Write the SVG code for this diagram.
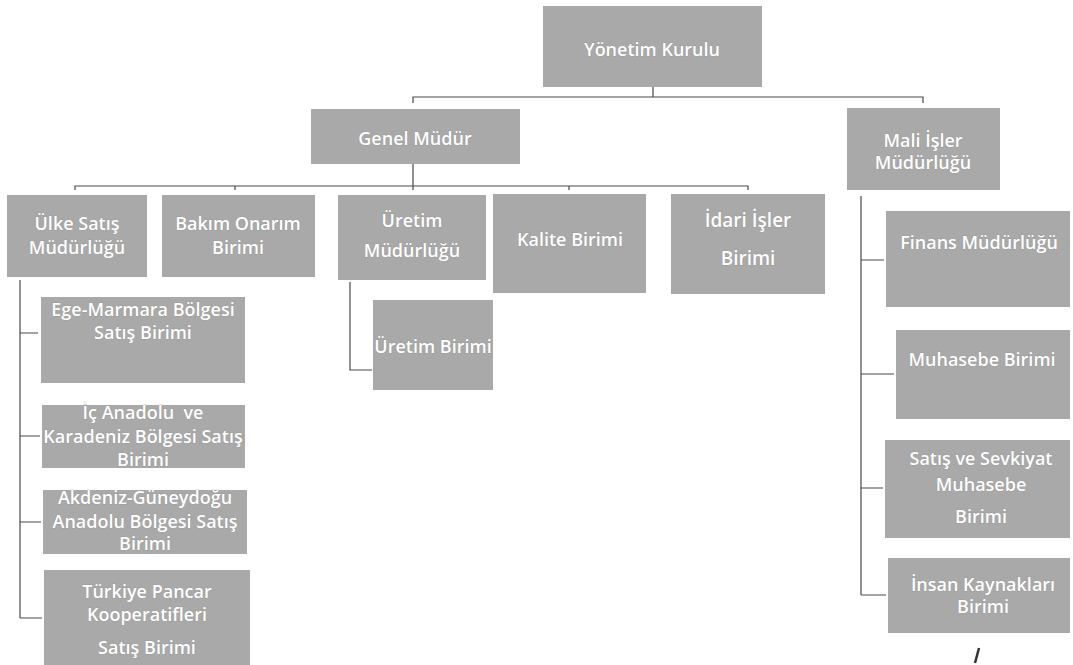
<svg xmlns="http://www.w3.org/2000/svg" width="1073" height="665" viewBox="0 0 1073 665">
<defs>
<style>
.box{fill:#a9a9a9;}
.t{font-family:"Open Sans","Liberation Sans",sans-serif;font-size:18px;font-weight:600;fill:#ffffff;stroke:#8c8c8c;stroke-width:0.5px;paint-order:stroke;text-anchor:middle;}
.big{font-size:19px;}
.c{fill:none;stroke:#4a4a4a;stroke-width:1.2;}
</style>
</defs>
<rect width="1073" height="665" fill="#ffffff"/>
<g id="connectors">
<path class="c" d="M653,87 V97 M413,103 V97 H923 V103"/>
<path class="c" d="M413,164 V190 M75,190 V186 H748 V190 M235,186 V190 M569,186 V190"/>
<path class="c" d="M20,280 V618 M20,333 H38 M20,436 H40 M20,522 H41 M20,618 H42"/>
<path class="c" d="M350,282 V370 H372"/>
<path class="c" d="M861,196 V595 M861,260 H884 M861,374 H894 M861,488 H883 M861,595 H886"/>
</g>
<g id="n-yonetim"><rect class="box" x="543" y="6" width="219" height="81"/><text class="t" x="652" y="56">Yönetim Kurulu</text></g>
<g id="n-genel"><rect class="box" x="311" y="109" width="209" height="55"/><text class="t" x="415" y="145">Genel Müdür</text></g>
<g id="n-mali"><rect class="box" x="847" y="108" width="153" height="82"/><text class="t" x="923" y="147">Mali İşler</text><text class="t" x="923" y="169">Müdürlüğü</text></g>
<g id="n-ulke"><rect class="box" x="7" y="195" width="140" height="82"/><text class="t" x="77" y="230">Ülke Satış</text><text class="t" x="77" y="254">Müdürlüğü</text></g>
<g id="n-bakim"><rect class="box" x="162" y="195" width="153" height="82"/><text class="t" x="238" y="230">Bakım Onarım</text><text class="t" x="238" y="254">Birimi</text></g>
<g id="n-uretim-m"><rect class="box" x="338" y="195" width="148" height="85"/><text class="t" x="412" y="227">Üretim</text><text class="t" x="412" y="257">Müdürlüğü</text></g>
<g id="n-kalite"><rect class="box" x="493" y="194" width="153" height="99"/><text class="t" x="570" y="246">Kalite Birimi</text></g>
<g id="n-idari"><rect class="box" x="671" y="194" width="154" height="100"/><text class="t big" x="748" y="227">İdari İşler</text><text class="t big" x="748" y="265">Birimi</text></g>
<g id="n-ege"><rect class="box" x="41" y="297" width="204" height="86"/><text class="t" x="143" y="316">Ege-Marmara Bölgesi</text><text class="t" x="143" y="339">Satış Birimi</text></g>
<g id="n-icanadolu"><rect class="box" x="42" y="405" width="203" height="63"/><text class="t" x="143" y="419" xml:space="preserve">İç Anadolu  ve</text><text class="t" x="143" y="443">Karadeniz Bölgesi Satış</text><text class="t" x="143" y="466">Birimi</text></g>
<g id="n-akdeniz"><rect class="box" x="43" y="490" width="204" height="64"/><text class="t" x="145" y="504">Akdeniz-Güneydoğu</text><text class="t" x="145" y="528">Anadolu Bölgesi Satış</text><text class="t" x="145" y="550">Birimi</text></g>
<g id="n-turkiye"><rect class="box" x="44" y="570" width="206" height="95"/><text class="t" x="147" y="598">Türkiye Pancar</text><text class="t" x="147" y="621">Kooperatifleri</text><text class="t" x="147" y="654">Satış Birimi</text></g>
<g id="n-uretim-b"><rect class="box" x="373" y="300" width="120" height="90"/><text class="t" x="433" y="353">Üretim Birimi</text></g>
<g id="n-finans"><rect class="box" x="886" y="211" width="184" height="96"/><text class="t" x="979" y="249">Finans Müdürlüğü</text></g>
<g id="n-muhasebe"><rect class="box" x="896" y="330" width="174" height="89"/><text class="t" x="982" y="366">Muhasebe Birimi</text></g>
<g id="n-satis"><rect class="box" x="885" y="440" width="185" height="98"/><text class="t" x="981" y="465">Satış ve Sevkiyat</text><text class="t" x="981" y="491">Muhasebe</text><text class="t" x="981" y="523">Birimi</text></g>
<g id="n-insan"><rect class="box" x="888" y="558" width="182" height="75"/><text class="t" x="983" y="591">İnsan Kaynakları</text><text class="t" x="983" y="613">Birimi</text></g>
<path d="M979,648 L975,663" stroke="#333" stroke-width="2.5" fill="none"/>
</svg>
